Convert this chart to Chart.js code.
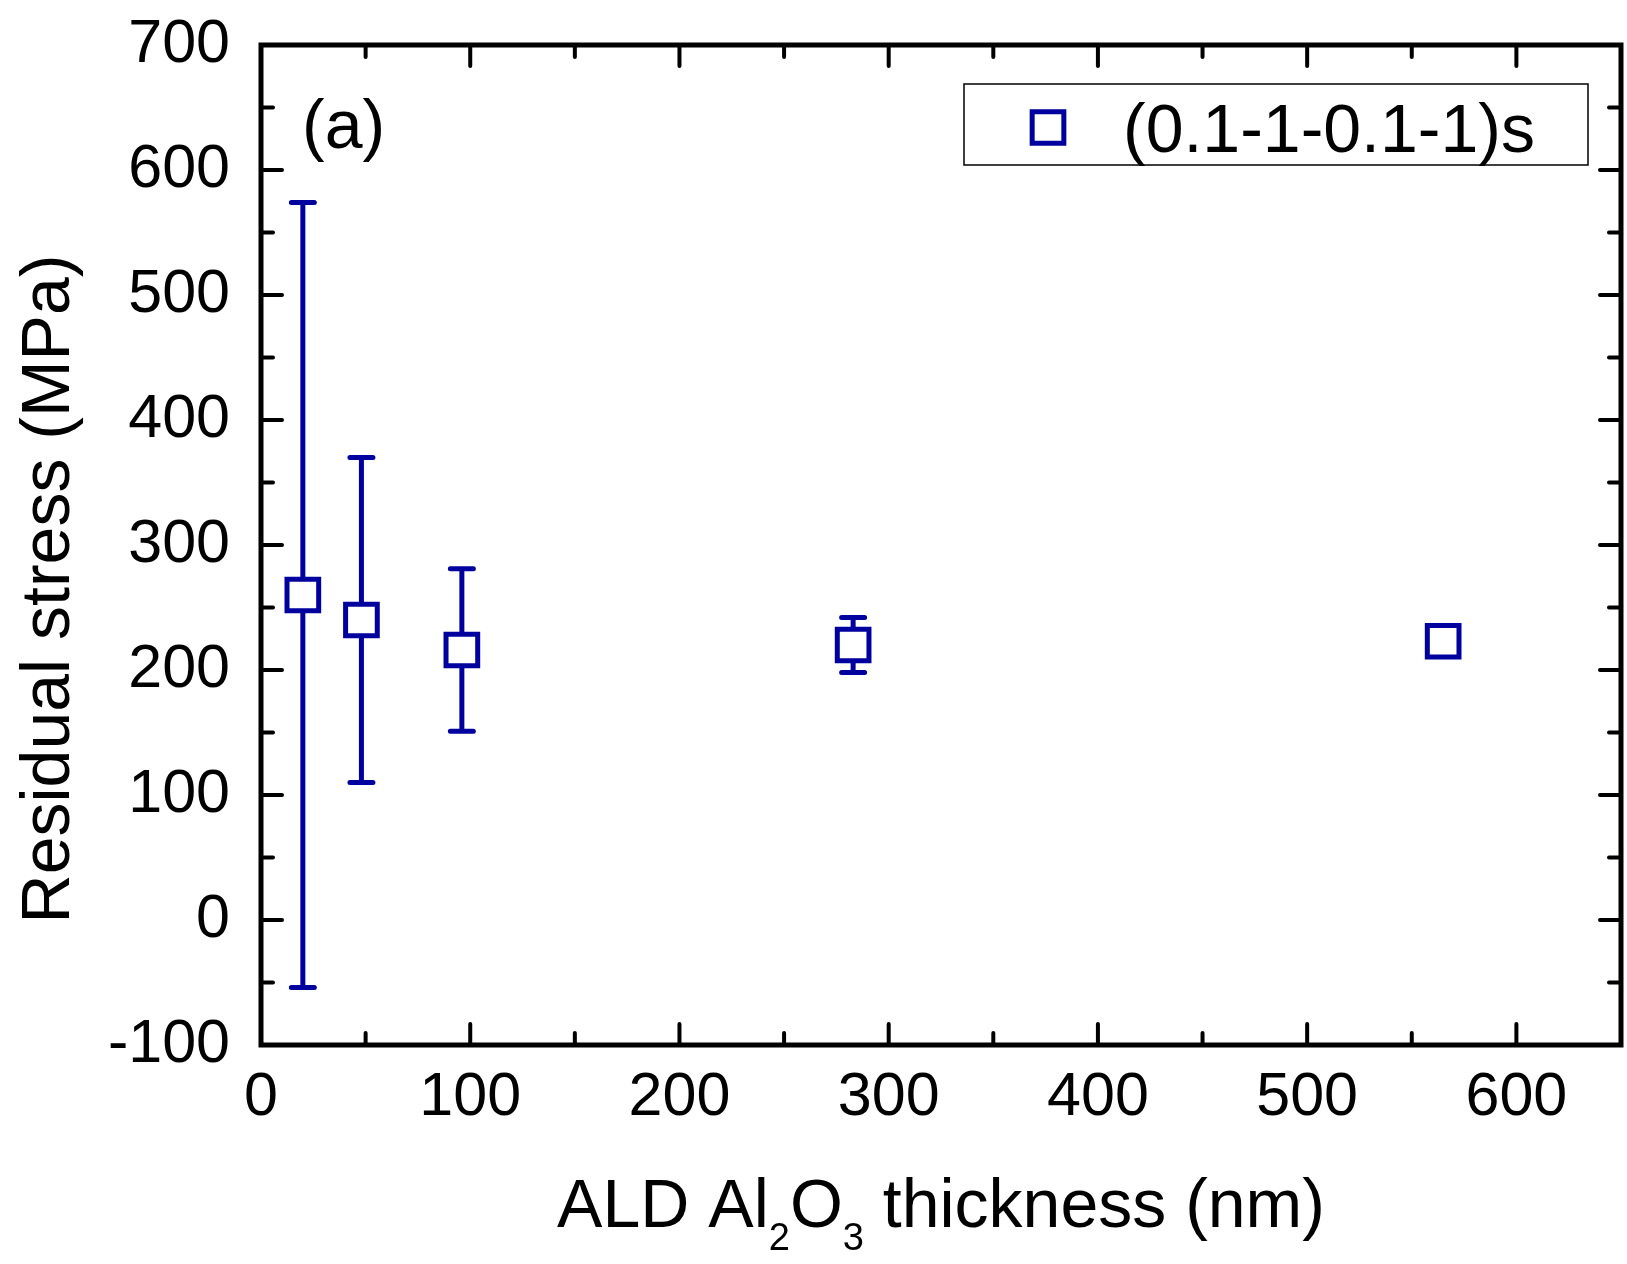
<!DOCTYPE html>
<html>
<head>
<meta charset="utf-8">
<script src="https://cdn.jsdelivr.net/npm/chart.js@4.4.1/dist/chart.umd.min.js"></script>
<style>
  html, body { margin: 0; padding: 0; background: #fff; }
  canvas { display: block; }
</style>
</head>
<body>
<canvas id="stressChart" width="1627" height="1264"></canvas>
<script>
// data
const thickness = [20, 48, 96, 283, 565];      // nm
const stress = [260, 240, 216, 220, 223];       // MPa
const stressErr = [314, 130, 65, 22, 0];        // MPa, symmetric
const seriesLabel = '(0.1-1-0.1-1)s';
const panelLabel = '(a)';
const yTitle = 'Residual stress (MPa)';
// x title pieces: [text, isSubscript]
const xTitleParts = [['ALD Al', false], ['2', true], ['O', false], ['3', true], [' thickness (nm)', false]];

const X_MIN = 0, X_MAX = 650, Y_MIN = -100, Y_MAX = 700;
const BLUE = '#00009f';
const FONT = '"Liberation Sans", Arial, sans-serif';

// error bars under the markers
const errorBars = {
    id: 'errorBars',
    beforeDatasetsDraw(chart) {
        const ctx = chart.ctx;
        const xs = chart.scales.x, ys = chart.scales.y;
        ctx.save();
        ctx.strokeStyle = BLUE;
        ctx.lineWidth = 5;
        ctx.lineCap = 'round';
        for (let i = 0; i < thickness.length; i++) {
            if (!stressErr[i]) continue;
            const px = xs.getPixelForValue(thickness[i]);
            const top = ys.getPixelForValue(stress[i] + stressErr[i]);
            const bot = ys.getPixelForValue(stress[i] - stressErr[i]);
            ctx.beginPath();
            ctx.moveTo(px, top); ctx.lineTo(px, bot);
            ctx.moveTo(px - 11.5, top); ctx.lineTo(px + 11.5, top);
            ctx.moveTo(px - 11.5, bot); ctx.lineTo(px + 11.5, bot);
            ctx.stroke();
        }
        ctx.restore();
    }
};

// box frame + inward ticks on all four sides
const frameTicks = {
    id: 'frameTicks',
    afterDraw(chart) {
        const ctx = chart.ctx;
        const a = chart.chartArea;
        const xs = chart.scales.x, ys = chart.scales.y;
        ctx.save();
        ctx.strokeStyle = '#000';
        ctx.lineWidth = 4;
        ctx.lineCap = 'round';
        ctx.beginPath();
        xs.ticks.forEach(t => {
            const px = xs.getPixelForValue(t.value);
            const len = t.value % 100 === 0 ? 21 : 12;
            ctx.moveTo(px, a.bottom); ctx.lineTo(px, a.bottom - len);
            ctx.moveTo(px, a.top); ctx.lineTo(px, a.top + len);
        });
        ys.ticks.forEach(t => {
            const py = ys.getPixelForValue(t.value);
            const len = t.value % 100 === 0 ? 21 : 12;
            ctx.moveTo(a.left, py); ctx.lineTo(a.left + len, py);
            ctx.moveTo(a.right, py); ctx.lineTo(a.right - len, py);
        });
        ctx.stroke();
        ctx.lineWidth = 5;
        ctx.lineCap = 'butt';
        ctx.strokeRect(a.left, a.top, a.right - a.left, a.bottom - a.top);
        ctx.restore();
    }
};

// titles, panel label and boxed legend
const textBits = {
    id: 'textBits',
    afterDraw(chart) {
        const ctx = chart.ctx;
        const a = chart.chartArea;
        ctx.save();
        ctx.fillStyle = '#000';
        ctx.textBaseline = 'alphabetic';

        // y title
        ctx.save();
        ctx.translate(69, 589);
        ctx.rotate(-Math.PI / 2);
        ctx.font = '68px ' + FONT;
        ctx.textAlign = 'center';
        ctx.fillText(yTitle, 0, 0);
        ctx.restore();

        // x title with subscripts
        const mainFont = '68px ' + FONT, subFont = '38px ' + FONT;
        let total = 0;
        xTitleParts.forEach(([s, sub]) => {
            ctx.font = sub ? subFont : mainFont;
            total += ctx.measureText(s).width;
        });
        let x = (a.left + a.right) / 2 - total / 2;
        ctx.textAlign = 'left';
        xTitleParts.forEach(([s, sub]) => {
            ctx.font = sub ? subFont : mainFont;
            ctx.fillText(s, x, sub ? 1250 : 1227);
            x += ctx.measureText(s).width;
        });

        // panel label
        ctx.font = '68px ' + FONT;
        ctx.fillText(panelLabel, 302, 148);

        // legend
        ctx.lineWidth = 1.5;
        ctx.strokeStyle = '#000';
        ctx.strokeRect(964, 84, 624, 81);
        ctx.fillStyle = '#fff';
        ctx.strokeStyle = BLUE;
        ctx.lineWidth = 5;
        Chart.helpers.drawPoint(ctx, { pointStyle: 'rect', radius: 22.4, borderWidth: 5, rotation: 0 }, 1048, 127.5);
        ctx.fillStyle = '#000';
        ctx.font = '68px ' + FONT;
        ctx.fillText(seriesLabel, 1123, 152);
        ctx.restore();
    }
};

const tickFont = { family: FONT, size: 61 };

function noPad(s) {
    s.paddingTop = 0; s.paddingBottom = 0; s.paddingLeft = 0; s.paddingRight = 0;
}

new Chart(document.getElementById('stressChart'), {
    type: 'scatter',
    data: {
        datasets: [{
            label: seriesLabel,
            data: thickness.map((t, i) => ({ x: t, y: stress[i] })),
            pointStyle: 'rect',
            pointRadius: 22.4,
            pointHoverRadius: 22.4,
            pointBorderWidth: 5,
            pointBackgroundColor: '#fff',
            borderColor: BLUE,
            showLine: false
        }]
    },
    options: {
        responsive: false,
        devicePixelRatio: 1,
        animation: false,
        layout: { autoPadding: false, padding: { top: 45, right: 6, left: 0, bottom: 0 } },
        plugins: {
            legend: { display: false },
            tooltip: { enabled: false },
            title: { display: false }
        },
        scales: {
            x: {
                type: 'linear', min: X_MIN, max: X_MAX,
                grid: { display: false },
                border: { display: false },
                ticks: {
                    stepSize: 50, autoSkip: false, maxRotation: 0,
                    color: '#000', font: tickFont, padding: 9,
                    callback: v => v % 100 === 0 ? String(v) : ''
                },
                afterFit: s => { s.height = 219; noPad(s); }
            },
            y: {
                type: 'linear', min: Y_MIN, max: Y_MAX,
                grid: { display: false },
                border: { display: false },
                ticks: {
                    stepSize: 50, autoSkip: false,
                    color: '#000', font: tickFont, padding: 23,
                    callback: v => v % 100 === 0 ? String(v) : ''
                },
                afterFit: s => { s.width = 261; noPad(s); }
            }
        }
    },
    plugins: [errorBars, frameTicks, textBits]
});
</script>
</body>
</html>
